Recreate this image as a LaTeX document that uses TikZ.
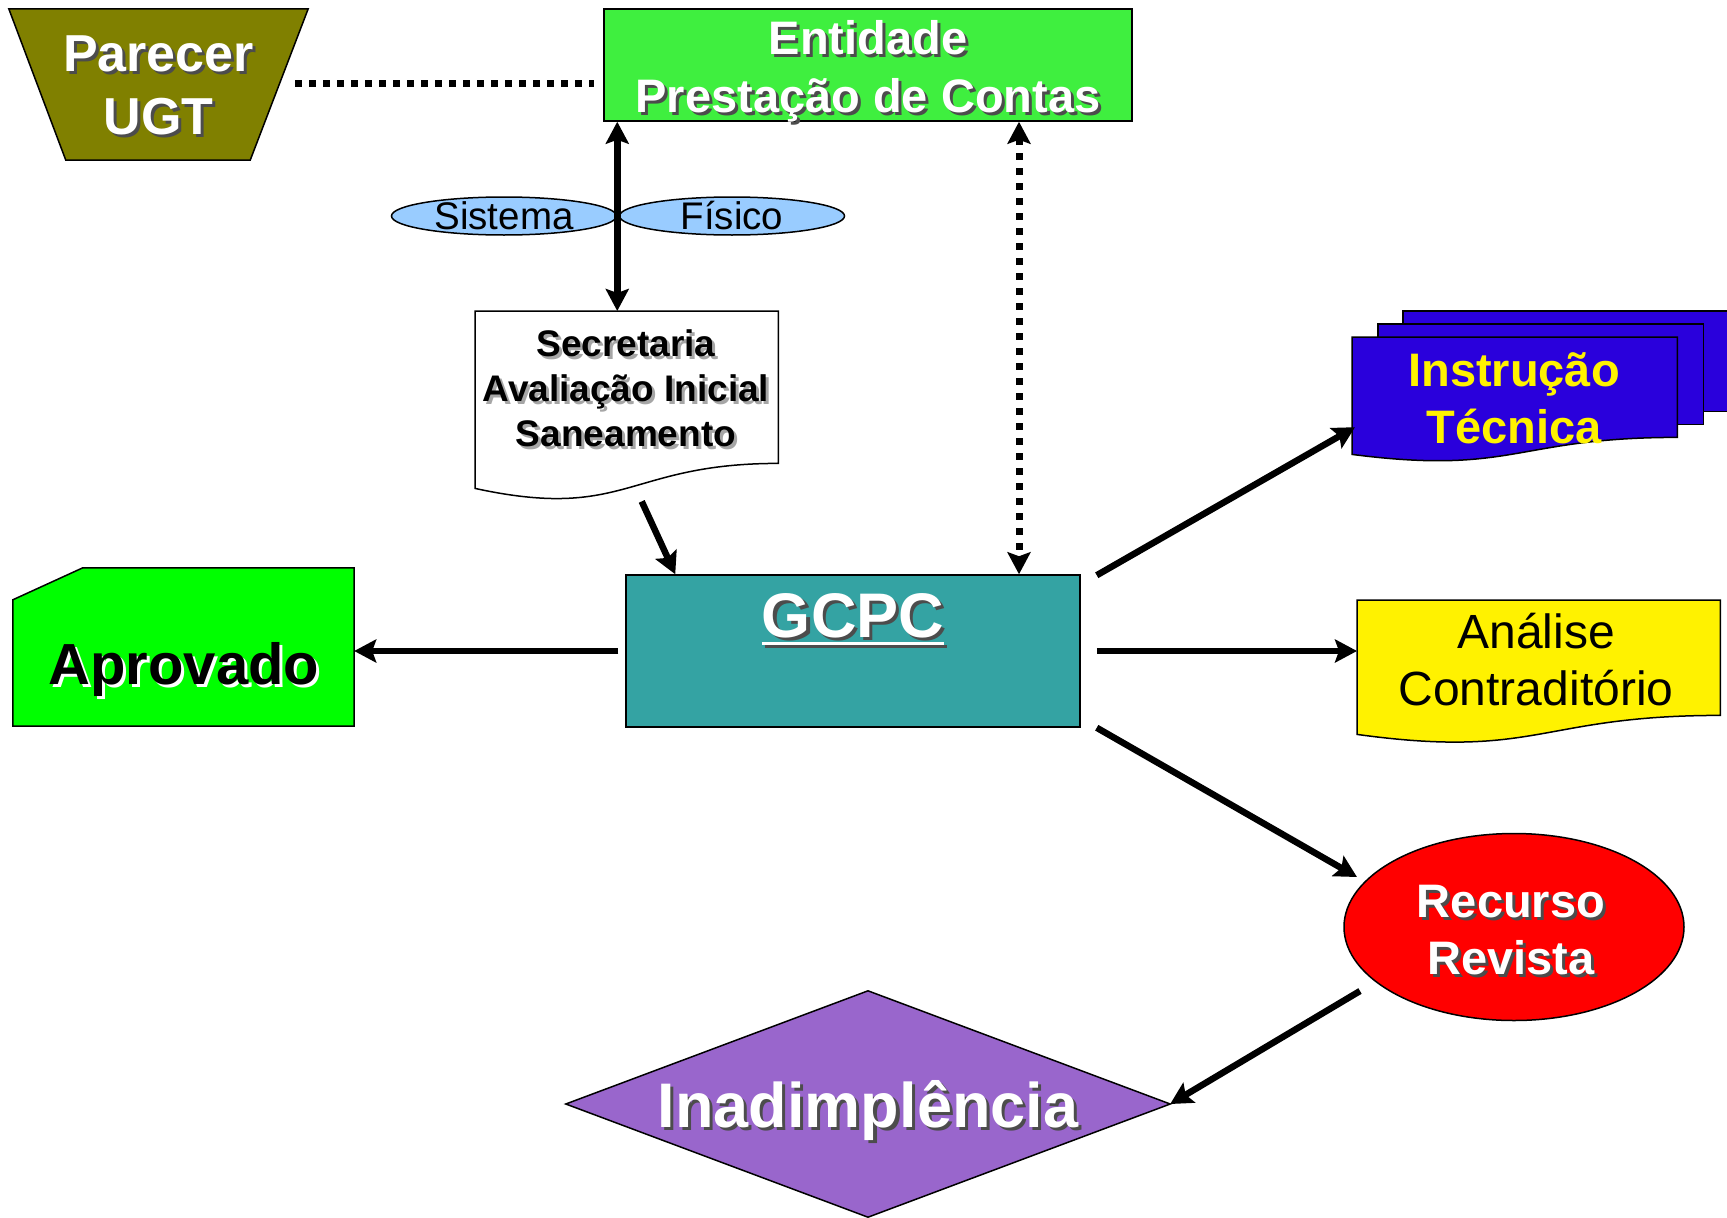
\documentclass[tikz,border=0pt]{standalone}
\usepackage{fontspec}
\setmainfont{Liberation Sans}
\usetikzlibrary{arrows.meta,shapes.geometric,calc}
\definecolor{olivebox}{HTML}{808000}
\definecolor{entgreen}{HTML}{3FEF3F}
\definecolor{pillblue}{HTML}{99CCFF}
\definecolor{tealbox}{HTML}{34A3A3}
\definecolor{aprgreen}{HTML}{00FF00}
\definecolor{instblue}{HTML}{2A00DC}
\definecolor{purpbox}{HTML}{9966CC}
\newcommand{\shd}[3]{\makebox[0pt][l]{\hspace*{3pt}\raisebox{-3pt}{\textcolor{#2}{#3}}}\textcolor{#1}{#3}}
\newcommand{\myul}[1]{\setbox0=\hbox{#1}\rlap{\rule[-8pt]{\wd0}{3pt}}\box0}
\begin{document}
\begin{tikzpicture}[x=1pt,y=-1pt,
  outl/.style={draw=black, line width=1.5pt},
  area/.style={inner sep=0pt, draw=none},
  txtnode/.style={inner sep=0pt, align=center},
  arr/.style={line width=6.5pt, -{Stealth[length=22pt,width=23pt,inset=4pt]}},
  dblarr/.style={line width=6.5pt, {Stealth[length=22pt,width=23pt,inset=4pt]}-{Stealth[length=22pt,width=23pt,inset=4pt]}},
  dotln/.style={line width=7pt, dash pattern=on 7pt off 7pt},
  dotdbl/.style={line width=7pt, dash pattern=on 7pt off 8pt, {Stealth[length=22pt,width=23pt,inset=4pt]}-{Stealth[length=22pt,width=23pt,inset=4pt]}}
]
\useasboundingbox (0,0) rectangle (1727,1218);

% Parecer UGT
\node[area, minimum width=299pt, minimum height=151pt] (ugt) at (158.5,84.5) {};
\filldraw[outl, fill=olivebox] (ugt.north west) -- (ugt.north east) -- ([xshift=-58pt]ugt.south east) -- ([xshift=57pt]ugt.south west) -- cycle;
\node[txtnode, font=\bfseries\fontsize{52}{63}\selectfont] (ugtT) at (158.5,87) {\shd{white}{black!70}{Parecer}\\\shd{white}{black!70}{UGT}};

% Entidade
\node[outl, fill=entgreen, minimum width=528pt, minimum height=112pt, inner sep=0pt] (ent) at (868,65) {};
\node[txtnode, font=\bfseries\fontsize{47}{58}\selectfont] (entT) at (868,73) {\shd{white}{black!70}{Entidade}\\\shd{white}{black!70}{Prestação de Contas}};

% dotted link
\coordinate (dotA) at (295,83);
\draw[dotln, shorten >=9pt] (dotA) -- (dotA -| ent.west);

% Sistema / Fisico
\node[outl, ellipse, fill=pillblue, minimum width=225pt, minimum height=38pt, inner sep=0pt, label={[font=\fontsize{38.5}{40}\selectfont]center:Sistema}] (sis) at (504,216) {};
\node[outl, ellipse, fill=pillblue, minimum width=225pt, minimum height=38pt, inner sep=0pt, label={[font=\fontsize{38.5}{40}\selectfont]center:Físico}] (fis) at (732,216) {};

% Secretaria
\node[area, minimum width=303pt, minimum height=152pt, anchor=north west] (sec) at (475,311) {};
\filldraw[outl, fill=white] (sec.north west) -- (sec.north east) -- (sec.south east) .. controls (sec.south) and ($(sec.south)+(0,58)$) .. ($(sec.south west)+(0,25)$) -- cycle;
\node[txtnode, font=\bfseries\fontsize{37}{45}\selectfont] (secT) at (626,390) {\shd{black}{black!35}{Secretaria}\\\shd{black}{black!35}{Avaliação Inicial}\\\shd{black}{black!35}{Saneamento}};

% GCPC
\node[outl, fill=tealbox, minimum width=454pt, minimum height=152pt, inner sep=0pt] (gcpc) at (853,651) {};
\node[anchor=base, inner sep=0pt, font=\bfseries\fontsize{63}{70}\selectfont] (gcpcT) at (853,637) {\shd{white}{black!70}{\myul{GCPC}}};

% Aprovado
\node[area, minimum width=341pt, minimum height=158pt] (apr) at (183.5,647) {};
\filldraw[outl, fill=aprgreen] ([yshift=-32pt]apr.north west) -- ([xshift=70pt]apr.north west) -- (apr.north east) -- (apr.south east) -- (apr.south west) -- cycle;
\node[txtnode, font=\bfseries\fontsize{58}{60}\selectfont] (aprT) at (184,671) {\shd{black}{white}{Aprovado}};

% Instrucao Tecnica (multi-document)
\node[area, minimum width=325pt, minimum height=100pt, anchor=north west] (ins) at (1352,337) {};
\filldraw[outl, fill=instblue] ([shift={(51,-26)}]ins.north west) rectangle ([shift={(51,-26)}]ins.south east);
\filldraw[outl, fill=instblue] ([shift={(26,-13)}]ins.north west) rectangle ([shift={(26,-13)}]ins.south east);
\filldraw[outl, fill=instblue] (ins.north west) -- (ins.north east) -- (ins.south east) .. controls (ins.south) and ($(ins.south)+(0,38)$) .. ($(ins.south west)+(0,17)$) -- cycle;
\node[txtnode, font=\bfseries\fontsize{47}{57}\selectfont] (insT) at (1514,398) {\textcolor{yellow}{Instrução}\\\textcolor{yellow}{Técnica}};

% Analise Contraditorio
\node[area, minimum width=363pt, minimum height=115pt, anchor=north west] (ana) at (1357,600) {};
\filldraw[outl, fill=yellow] (ana.north west) -- (ana.north east) -- (ana.south east) .. controls (ana.south) and ($(ana.south)+(0,44)$) .. ($(ana.south west)+(0,19)$) -- cycle;
\node[txtnode, font=\fontsize{48}{57}\selectfont] (anaT) at (1536,660) {Análise\\Contraditório};

% Recurso Revista
\node[outl, ellipse, fill=red, minimum width=340pt, minimum height=187pt, inner sep=0pt] (rec) at (1514,927) {};
\node[txtnode, font=\bfseries\fontsize{47}{57}\selectfont] (recT) at (1511,932) {\shd{white}{black!70}{Recurso}\\\shd{white}{black!70}{Revista}};

% Inadimplencia
\node[area, minimum width=604pt, minimum height=226pt] (inad) at (868,1104) {};
\filldraw[outl, fill=purpbox] (inad.west) -- (inad.north) -- (inad.east) -- (inad.south) -- cycle;
\node[txtnode, font=\bfseries\fontsize{63}{70}\selectfont] (inadT) at (868,1112) {\shd{white}{black!70}{Inadimplência}};

% connectors
\draw[dblarr] ([xshift=14pt]ent.south west) -- ([xshift=14pt]ent.south west |- sec.north);
\draw[dotdbl] ([xshift=151pt]ent.south) -- ([xshift=151pt]ent.south |- gcpc.north);
\draw[arr] ([shift={(15,38)}]sec.south) -- ([xshift=50pt]gcpc.north west);
\draw[arr] ([xshift=-7pt]gcpc.west) -- (gcpc.west -| apr.east);
\draw[arr] ([shift={(16,1)}]gcpc.north east) -- ([shift={(3,40)}]ins.west);
\draw[arr] ([xshift=16pt]gcpc.east) -- (gcpc.east -| ana.west);
\draw[arr] ([xshift=16pt]gcpc.south east) -- ([shift={(-157,-50)}]rec.center);
\draw[arr] ([shift={(-154,64)}]rec.center) -- (inad.east);
\end{tikzpicture}
\end{document}
